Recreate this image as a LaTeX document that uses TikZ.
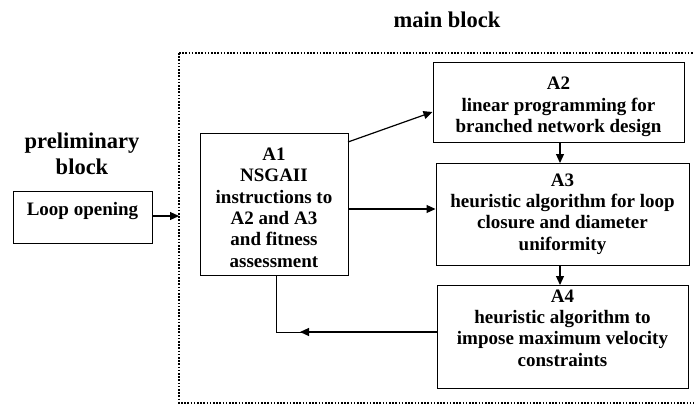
\documentclass[tikz,border=0pt]{standalone}
\usepackage{fontspec}
\setmainfont{Liberation Serif}
\usetikzlibrary{arrows.meta}
\begin{document}
\begin{tikzpicture}[x=1pt,y=-1pt,
  box/.style={draw,line width=1pt,align=center,inner sep=0pt,
    font=\fontsize{19}{21.3}\selectfont\bfseries},
  lbl/.style={align=center,inner sep=0pt,font=\fontsize{22.5}{26}\selectfont\bfseries},
  arr/.style={line width=1.2pt,-{Triangle[length=9pt,width=8pt]}},
  dotbox/.style={line width=1.8pt,dash pattern=on 1.6pt off 1.6pt}]
\useasboundingbox (0,0) rectangle (694,405);
\draw[dotbox] (179,53) -- (700,53) (179,53) -- (179,403) -- (700,403);
\node[lbl] (mainlbl) at (447,20) {main block};
\node[lbl] (prelbl) at (82,154) {preliminary\\block};
\node[box,minimum width=139pt,minimum height=52pt,text depth=17pt] (loop) at (82.5,217) {Loop opening};
\node[box,minimum width=148pt,minimum height=142pt,text height=126.5pt] (a1) at (274,204) {A1\\NSGAII\\instructions to\\A2 and A3\\and fitness\\assessment};
\node[box,minimum width=251pt,minimum height=80pt,text height=65pt] (a2) at (558.5,102) {A2\\linear programming for\\branched network design};
\node[box,minimum width=253pt,minimum height=102pt] (a3) at (562.5,214) {A3\\heuristic algorithm for loop\\closure and diameter\\uniformity};
\node[box,minimum width=251pt,minimum height=103pt,text depth=17pt] (a4) at (562.5,336.5) {A4\\heuristic algorithm to\\impose maximum velocity\\constraints};
\coordinate (dl) at (179,216);
\coordinate (fb) at (276,332);
\coordinate (tip) at (300,332);
\draw[arr] (loop.east |- dl) -- (dl);
\draw[arr] (348,142) -- (a2.west |- 0,112);
\draw[arr] (a1.east |- 0,209) -- (a3.west |- 0,209);
\draw[arr] (560,142) -- (560,163);
\draw[arr] (560,265) -- (560,285);
\draw[line width=1pt] (a4.west |- fb) -- (fb) -- (fb |- a1.south);
\draw[arr] (a4.west |- fb) -- (tip);
\end{tikzpicture}
\end{document}
